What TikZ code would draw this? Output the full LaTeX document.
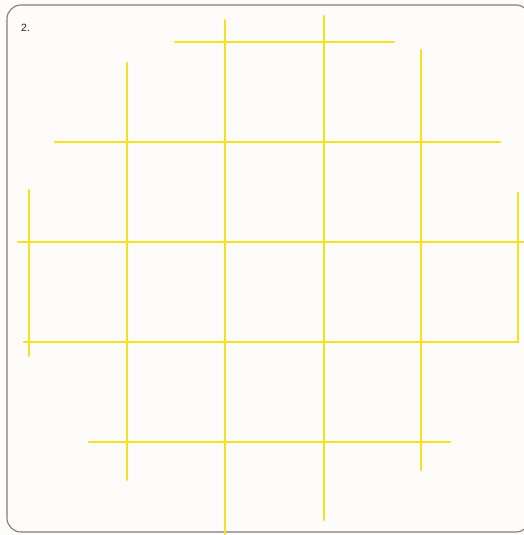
\documentclass[tikz,border=0pt]{standalone}
\usepackage{fontspec}
\setmainfont{Liberation Sans}
\definecolor{gridyellow}{RGB}{244,226,30}
\definecolor{framegray}{RGB}{125,125,125}
\definecolor{paper}{RGB}{253,252,250}
\begin{document}
\begin{tikzpicture}[x=1pt,y=-1pt,
  gline/.style={draw=gridyellow,line width=2.4pt,line cap=round},
  frame/.style={draw=framegray,line width=1.1pt,rounded corners=14pt}]
\useasboundingbox (0,0) rectangle (524,535);
\fill[paper] (0,0) rectangle (524,535);
\draw[frame] (7,5) rectangle (530,532);
\node[font=\fontsize{10.5}{12}\selectfont,text=black!85,anchor=west,inner sep=0pt] (lbl) at (21,28) {2.};
% horizontal lines
\draw[gline] (175,42) -- (394,42);
\draw[gline] (55,142) -- (500,142);
\draw[gline] (18,242) -- (524,242);
\draw[gline] (24,342) -- (518,342);
\draw[gline] (89,442) -- (450,442);
% vertical lines
\draw[gline] (29,190) -- (29,356);
\draw[gline] (518,193) -- (518,342);
\draw[gline] (127,63) -- (127,480);
\draw[gline] (225,20) -- (225,534);
\draw[gline] (324,16) -- (324,520);
\draw[gline] (421,50) -- (421,470);
\end{tikzpicture}
\end{document}
